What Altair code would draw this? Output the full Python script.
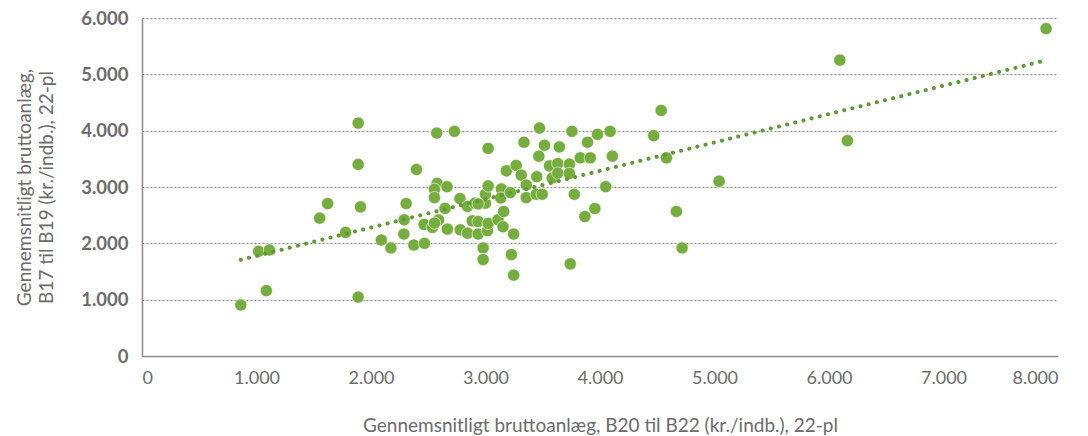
import altair as alt
import pandas as pd

x_vals = [863, 1019, 1112, 1086, 1552, 1621, 1778, 1888, 1888, 1908, 1888,
          2090, 2174, 2307, 2290, 2287, 2397, 2374, 2467, 2464, 2536, 2574,
          2577, 2554, 2554, 2590, 2555, 2664, 2647, 2667, 2728, 2777, 2780,
          2843, 2843, 2907, 2884, 2936, 2936, 2999, 2999, 3023, 3023, 3017,
          3023, 2979, 2979, 3110, 3138, 3133, 3159, 3153, 3182, 3217, 3246,
          3226, 3246, 3268, 3312, 3336, 3356, 3356, 3448, 3443, 3495, 3472,
          3466, 3515, 3559, 3582, 3631, 3631, 3645, 3732, 3732, 3755, 3776,
          3740, 3828, 3868, 3891, 3915, 3955, 3978, 4050, 4088, 4108, 4469,
          4534, 4580, 4667, 4717, 5040, 6095, 6161, 7896, 2936]
y_vals = [906, 1859, 1882, 1159, 2447, 2706, 2194, 4135, 3400, 2647, 1047,
          2059, 1918, 2706, 2418, 2165, 3311, 1970, 2000, 2335, 2282, 3958,
          3064, 2960, 2812, 2415, 2360, 3005, 2620, 2253, 3988, 2794, 2240,
          2180, 2655, 2712, 2400, 2388, 2165, 2712, 2871, 3018, 3685, 2224,
          2353, 1918, 1712, 2420, 2965, 2805, 2565, 2294, 3288, 2900, 2165,
          1800, 1435, 3382, 3212, 3794, 3035, 2812, 3182, 2871, 2871, 4047,
          3547, 3741, 3375, 3160, 3415, 3247, 3711, 3406, 3241, 3988, 2871,
          1635, 3518, 2476, 3794, 3518, 2618, 3935, 3005, 3988, 3547, 3911,
          4359, 3518, 2565, 1918, 3103, 5253, 3823, 5812, 2700]

df = pd.DataFrame({"x": x_vals, "y": y_vals})

GREEN = "#76AD3F"
TREND = "#5E9A32"
GRAY = "#6B6B6B"
FONT = "Lato"

label_expr = "replace(format(datum.value, ','), ',', '.')"

x_axis = alt.Axis(
    title="Gennemsnitligt bruttoanlæg, B20 til B22 (kr./indb.), 22-pl",
    values=[0, 1000, 2000, 3000, 4000, 5000, 6000, 7000, 8000],
    labelExpr=label_expr,
    grid=False, ticks=False, domainColor="#8C8C8C", domainWidth=1.5,
    labelFont=FONT, labelFontSize=18, labelColor=GRAY, labelPadding=13,
    titleFont=FONT, titleFontSize=19, titleColor=GRAY, titleFontWeight="normal",
    titlePadding=29,
)
y_axis = alt.Axis(
    title=["Gennemsnitligt bruttoanlæg,", "B17 til B19 (kr./indb.), 22-pl"],
    values=[0, 1000, 2000, 3000, 4000, 5000, 6000],
    labelExpr=label_expr,
    grid=True, gridColor="#8C8C8C", gridDash=[2, 2], gridWidth=1,
    ticks=False, domainColor="#8C8C8C", domainWidth=1.5,
    labelFont=FONT, labelFontSize=18.5, labelFontWeight="bold", labelColor=GRAY,
    labelPadding=14,
    titleFont=FONT, titleFontSize=19, titleColor=GRAY, titleFontWeight="normal",
    titleLineHeight=22, titlePadding=24,
)

base = alt.Chart(df)

points = base.mark_circle(size=150, opacity=1, color=GREEN, stroke="white",
                          strokeWidth=0.6).encode(
    x=alt.X("x:Q", scale=alt.Scale(domain=[0, 8000], nice=False), axis=x_axis),
    y=alt.Y("y:Q", scale=alt.Scale(domain=[0, 6000], nice=False), axis=y_axis),
)

trend = base.transform_regression("x", "y").mark_line(
    color=TREND, strokeWidth=4, strokeDash=[0.1, 8.3], strokeCap="round"
).encode(x="x:Q", y="y:Q")

chart = (points + trend).properties(
    width=916, height=338,
    autosize=alt.AutoSizeParams(type="none"),
    padding={"left": 134, "top": 10, "right": 22, "bottom": 80},
).configure_view(stroke=None)

chart.save("out.html", embed_options={"renderer": "svg", "actions": False})
